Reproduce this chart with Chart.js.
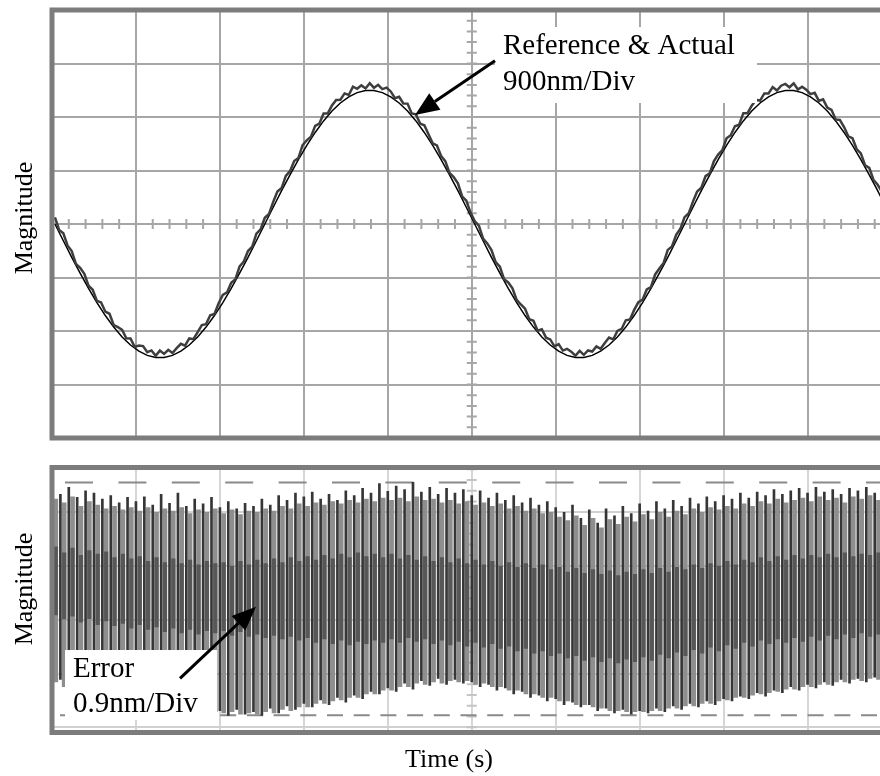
<!DOCTYPE html>
<html>
<head>
<meta charset="utf-8">
<script src="https://cdn.jsdelivr.net/npm/chart.js@4/dist/chart.umd.min.js"></script>
<style>
  html, body { margin: 0; padding: 0; background: #fff; width: 880px; height: 776px; overflow: hidden; }
  #wrap { position: relative; width: 880px; height: 776px; }
  canvas { position: absolute; left: 0; }
  #cTop { top: 0; }
  #cBot { top: 447px; }
  .lbl { position: absolute; width: 200px; height: 30px; line-height: 30px; text-align: center;
         font-family: "Liberation Serif", "Times New Roman", serif; font-size: 26px; color: #000; white-space: nowrap; }
  .rot { transform: rotate(-90deg); }
</style>
</head>
<body>
<div id="wrap">
  <canvas id="cTop" width="880" height="447"></canvas>
  <canvas id="cBot" width="880" height="329"></canvas>
  <div class="lbl rot" style="left:-76.5px; top:203px;">Magnitude</div>
  <div class="lbl rot" style="left:-76.5px; top:574px;">Magnitude</div>
  <div class="lbl" style="left:349px; top:744px;">Time (s)</div>
</div>
<script>
// ---- time axis (divisions) ----
const xVisibleMax = 9.863;
const gridX = [1, 2, 3, 4, 5, 6, 7, 8, 9];

// ---- upper trace: 900 nm / div ----
const gridTopY = [-2700, -1800, -900, 0, 900, 1800, 2700];
const refStep = 0.1;        // sample spacing of the reference trace (div)
const actualStep = 0.05;    // sample spacing of the measured trace (div)
const traceStart = 0.035;   // trigger offset of both traces (div)

const referenceNm = [
  0, -282, -560, -828, -1084, -1323, -1540, -1734, -1900, -2036,
  -2140, -2210, -2246, -2246, -2210, -2140, -2036, -1900, -1734, -1540,
  -1323, -1084, -828, -560, -282, 0, 282, 560, 828, 1084,
  1323, 1540, 1734, 1900, 2036, 2140, 2210, 2246, 2246, 2210,
  2140, 2036, 1900, 1734, 1540, 1323, 1084, 828, 560, 282,
  0, -282, -560, -828, -1084, -1323, -1540, -1734, -1900, -2036,
  -2140, -2210, -2246, -2246, -2210, -2140, -2036, -1900, -1734, -1540,
  -1323, -1084, -828, -560, -282, 0, 282, 560, 828, 1084,
  1323, 1540, 1734, 1900, 2036, 2140, 2210, 2246, 2246, 2210,
  2140, 2036, 1900, 1734, 1540, 1323, 1084, 828, 560, 282
];

const actualNm = [
  110, -101, -157, -362, -455, -670, -738, -838, -1039, -1106,
  -1293, -1319, -1475, -1510, -1699, -1735, -1780, -1922, -1926, -2067,
  -2045, -2054, -2155, -2127, -2216, -2130, -2186, -2117, -2170, -2089,
  -2015, -2047, -1926, -1937, -1820, -1700, -1684, -1535, -1515, -1334,
  -1193, -1151, -989, -928, -713, -630, -455, -382, -162, -91,
  105, 171, 372, 547, 605, 810, 888, 1058, 1109, 1326,
  1408, 1469, 1650, 1690, 1859, 1860, 1995, 2087, 2091, 2197,
  2170, 2309, 2275, 2332, 2281, 2370, 2291, 2342, 2270, 2294,
  2230, 2117, 2141, 2027, 2025, 1860, 1844, 1690, 1660, 1509,
  1358, 1321, 1144, 1058, 858, 790, 685, 467, 392, 196,
  50, -26, -247, -327, -440, -640, -718, -928, -984, -1081,
  -1278, -1354, -1425, -1600, -1629, -1795, -1770, -1912, -1941, -2057,
  -2020, -2129, -2100, -2147, -2216, -2135, -2201, -2127, -2145, -2059,
  -2100, -2002, -1911, -1942, -1800, -1765, -1619, -1605, -1445, -1314,
  -1273, -1101, -1059, -848, -748, -655, -435, -377, -182, -81,
  115, 181, 377, 547, 610, 805, 853, 1058, 1169, 1241,
  1443, 1494, 1645, 1670, 1864, 1865, 1990, 2087, 2076, 2197,
  2195, 2304, 2245, 2327, 2356, 2300, 2366, 2262, 2310, 2259,
  2185, 2207, 2071, 2097, 1960, 1920, 1759, 1750, 1630, 1474,
  1443, 1261, 1189, 988, 943, 745, 660, 547
];

// ---- lower trace: tracking error, 0.9 nm / div ----
const gridBotY = [-1.8, -0.9, 0, 0.9, 1.8];
const errAxisMin = -1.887, errAxisMax = 2.55;
const cursorLevels = [2.3, -1.6];
const errStep = 0.1;          // one stroke pair per 0.1 div
const errStrokeShift = 0.045; // light stroke follows the dark one

const errDarkHi = [
  2.18, 2.10, 2.22, 2.05, 2.16, 2.12, 2.02, 2.08, 1.96, 2.05,
  1.98, 2.06, 1.92, 2.10, 1.95, 2.12, 1.90, 2.02, 1.94, 2.05,
  1.88, 1.98, 1.86, 1.95, 1.90, 2.02, 1.92, 2.08, 2.00, 2.12,
  2.06, 2.14, 2.02, 2.10, 2.00, 2.16, 2.08, 2.20, 2.12, 2.28,
  2.15, 2.24, 2.18, 2.30, 2.14, 2.22, 2.10, 2.20, 2.12, 2.18,
  2.08, 2.16, 2.04, 2.12, 2.00, 2.08, 1.96, 2.04, 1.92, 1.98,
  1.88, 1.80, 1.92, 1.70, 1.84, 1.62, 1.86, 1.74, 1.90, 1.78,
  1.94, 1.82, 1.98, 1.86, 2.00, 1.90, 2.04, 1.94, 2.06, 1.98,
  2.08, 2.02, 2.12, 2.04, 2.14, 2.08, 2.18, 2.10, 2.16, 2.20,
  2.12, 2.22, 2.14, 2.18, 2.10, 2.20, 2.16, 2.22, 2.12
];
const errDarkLo = [
  -1.10, -1.00, -1.18, -1.08, -1.22, -1.30, -1.24, -1.38, -1.32, -1.44,
  -1.36, -1.48, -1.40, -1.52, -1.44, -1.56, -1.48, -1.58, -1.50, -1.56,
  -1.52, -1.60, -1.50, -1.58, -1.54, -1.60, -1.48, -1.56, -1.44, -1.50,
  -1.40, -1.46, -1.34, -1.42, -1.30, -1.38, -1.26, -1.32, -1.20, -1.24,
  -1.14, -1.20, -1.06, -1.16, -1.02, -1.10, -0.98, -1.08, -1.00, -1.06,
  -1.04, -1.12, -1.08, -1.18, -1.14, -1.24, -1.20, -1.30, -1.26, -1.36,
  -1.32, -1.42, -1.38, -1.46, -1.42, -1.52, -1.48, -1.56, -1.50, -1.58,
  -1.52, -1.56, -1.48, -1.54, -1.44, -1.50, -1.40, -1.46, -1.36, -1.42,
  -1.32, -1.36, -1.28, -1.32, -1.22, -1.28, -1.18, -1.22, -1.12, -1.18,
  -1.08, -1.14, -1.04, -1.10, -1.00, -1.06, -0.98, -1.04, -0.96
];
const errGrayHi = [
  2.02, 1.96, 2.06, 1.90, 1.98, 1.92, 1.86, 1.90, 1.84, 1.88,
  1.82, 1.88, 1.80, 1.86, 1.82, 1.88, 1.78, 1.84, 1.80, 1.86,
  1.78, 1.84, 1.76, 1.82, 1.80, 1.86, 1.82, 1.90, 1.86, 1.94,
  1.90, 1.96, 1.92, 1.98, 1.94, 2.00, 1.96, 2.02, 1.98, 2.04,
  2.00, 2.04, 1.98, 2.06, 2.00, 2.02, 1.96, 2.00, 1.94, 1.98,
  1.92, 1.96, 1.90, 1.94, 1.86, 1.90, 1.82, 1.86, 1.78, 1.80,
  1.72, 1.66, 1.74, 1.58, 1.70, 1.54, 1.68, 1.60, 1.72, 1.64,
  1.76, 1.68, 1.80, 1.72, 1.82, 1.76, 1.86, 1.80, 1.88, 1.84,
  1.90, 1.86, 1.94, 1.90, 1.98, 1.94, 2.02, 1.96, 2.00, 2.04,
  1.98, 2.06, 2.00, 2.04, 1.96, 2.06, 2.02, 2.08, 2.00
];
const errGrayLo = [
  -1.04, -1.12, -1.08, -1.16, -1.18, -1.24, -1.30, -1.32, -1.40, -1.38,
  -1.44, -1.42, -1.50, -1.46, -1.52, -1.50, -1.54, -1.52, -1.56, -1.54,
  -1.56, -1.54, -1.58, -1.56, -1.58, -1.54, -1.56, -1.50, -1.52, -1.46,
  -1.46, -1.40, -1.40, -1.36, -1.34, -1.30, -1.30, -1.24, -1.24, -1.18,
  -1.18, -1.12, -1.12, -1.06, -1.08, -1.04, -1.06, -1.02, -1.04, -1.02,
  -1.08, -1.06, -1.12, -1.12, -1.18, -1.18, -1.24, -1.24, -1.30, -1.30,
  -1.36, -1.36, -1.42, -1.42, -1.46, -1.48, -1.52, -1.52, -1.54, -1.54,
  -1.54, -1.52, -1.52, -1.48, -1.48, -1.44, -1.44, -1.40, -1.40, -1.36,
  -1.34, -1.30, -1.30, -1.26, -1.24, -1.22, -1.20, -1.16, -1.16, -1.12,
  -1.12, -1.08, -1.08, -1.04, -1.04, -1.00, -1.02, -0.98, -1.00
];
const errBandHi = [
  1.22, 1.12, 1.20, 1.08, 1.16, 1.10, 1.14, 1.04, 1.10, 1.02,
  1.06, 0.98, 1.04, 0.96, 1.02, 0.94, 1.00, 0.92, 0.98, 0.94,
  0.96, 0.90, 0.98, 0.92, 1.00, 0.94, 1.02, 0.96, 1.04, 0.98,
  1.06, 1.00, 1.08, 1.02, 1.10, 1.04, 1.12, 1.06, 1.10, 1.04,
  1.10, 1.02, 1.08, 1.00, 1.06, 0.98, 1.04, 0.96, 1.02, 0.94,
  1.00, 0.92, 0.98, 0.90, 0.96, 0.88, 0.94, 0.86, 0.92, 0.84,
  0.88, 0.80, 0.86, 0.78, 0.84, 0.76, 0.82, 0.74, 0.80, 0.76,
  0.84, 0.78, 0.86, 0.80, 0.88, 0.84, 0.92, 0.86, 0.94, 0.90,
  0.98, 0.92, 1.00, 0.96, 1.04, 0.98, 1.06, 1.00, 1.08, 1.02,
  1.08, 1.04, 1.10, 1.04, 1.12, 1.06, 1.10, 1.08, 1.12
];
const errBandLo = [
  0.08, 0.00, 0.06, -0.04, 0.02, -0.08, -0.02, -0.10, -0.06, -0.14,
  -0.08, -0.16, -0.12, -0.20, -0.14, -0.22, -0.16, -0.24, -0.18, -0.22,
  -0.18, -0.26, -0.20, -0.28, -0.24, -0.30, -0.26, -0.32, -0.28, -0.34,
  -0.30, -0.38, -0.32, -0.40, -0.34, -0.42, -0.36, -0.40, -0.34, -0.38,
  -0.32, -0.38, -0.30, -0.36, -0.32, -0.40, -0.34, -0.42, -0.36, -0.44,
  -0.38, -0.46, -0.40, -0.48, -0.44, -0.52, -0.48, -0.56, -0.52, -0.60,
  -0.56, -0.64, -0.60, -0.68, -0.62, -0.70, -0.64, -0.72, -0.66, -0.70,
  -0.62, -0.68, -0.58, -0.64, -0.54, -0.60, -0.50, -0.56, -0.46, -0.52,
  -0.42, -0.48, -0.38, -0.44, -0.34, -0.40, -0.32, -0.38, -0.30, -0.36,
  -0.28, -0.34, -0.26, -0.32, -0.24, -0.30, -0.22, -0.28, -0.24
];

// ---- shared drawing helpers ----
const SERIF = '"Liberation Serif", "Times New Roman", serif';

// short graduation marks along the centre lines of the screen
const minorTicks = {
  id: 'minorTicks',
  beforeDatasetsDraw(chart, args, o) {
    const { ctx, chartArea: a, scales: { x, y } } = chart;
    ctx.save();
    ctx.beginPath(); ctx.rect(a.left, a.top, a.right - a.left, a.bottom - a.top); ctx.clip();
    ctx.strokeStyle = o.color; ctx.lineWidth = 2;
    ctx.beginPath();
    if (o.hLine) {
      const py = y.getPixelForValue(o.hLine.at);
      for (let i = 0; o.hLine.from + i * o.hLine.step <= o.hLine.to + 1e-9; i++) {
        const px = x.getPixelForValue(o.hLine.from + i * o.hLine.step);
        ctx.moveTo(px, py - o.half); ctx.lineTo(px, py + o.half);
      }
    }
    if (o.vLine) {
      const px = x.getPixelForValue(o.vLine.at);
      for (let i = 0; o.vLine.from + i * o.vLine.step <= o.vLine.to + 1e-9; i++) {
        const py = y.getPixelForValue(o.vLine.from + i * o.vLine.step);
        ctx.moveTo(px - o.half, py); ctx.lineTo(px + o.half, py);
      }
    }
    ctx.stroke();
    ctx.restore();
  }
};

// labelled callout with an arrow pointing at the trace
const callout = {
  id: 'callout',
  afterDatasetsDraw(chart, args, o) {
    const { ctx, scales: { x, y } } = chart;
    const X = v => x.getPixelForValue(v), Y = v => y.getPixelForValue(v);
    ctx.save();
    const bx0 = X(o.box[0]), by0 = Y(o.box[1]), bx1 = X(o.box[2]), by1 = Y(o.box[3]);
    ctx.fillStyle = '#fff';
    ctx.fillRect(bx0, by0, bx1 - bx0, by1 - by0);
    ctx.fillStyle = '#000';
    ctx.font = '29px ' + SERIF;
    ctx.textAlign = 'left'; ctx.textBaseline = 'alphabetic';
    o.lines.forEach((t, i) => ctx.fillText(t, X(o.textX), Y(o.baselines[i])));
    const tx = X(o.tail[0]), ty = Y(o.tail[1]), hx = X(o.head[0]), hy = Y(o.head[1]);
    const ang = Math.atan2(hy - ty, hx - tx), L = 24, W = 10;
    const bx = hx - L * Math.cos(ang), by = hy - L * Math.sin(ang);
    ctx.strokeStyle = '#000'; ctx.lineWidth = 3;
    ctx.beginPath(); ctx.moveTo(tx, ty); ctx.lineTo(bx, by); ctx.stroke();
    ctx.beginPath();
    ctx.moveTo(hx, hy);
    ctx.lineTo(bx + W * Math.sin(ang), by - W * Math.cos(ang));
    ctx.lineTo(bx - W * Math.sin(ang), by + W * Math.cos(ang));
    ctx.closePath(); ctx.fill();
    ctx.restore();
  }
};

// heavy bezel round the screen (open to the right, where the screen continues)
const bezel = {
  id: 'bezel',
  afterDraw(chart) {
    const { ctx, chartArea: a } = chart;
    ctx.save();
    ctx.strokeStyle = '#7c7c7c'; ctx.lineWidth = 5;
    ctx.beginPath();
    ctx.moveTo(a.right + 20, a.top); ctx.lineTo(a.left, a.top);
    ctx.lineTo(a.left, a.bottom); ctx.lineTo(a.right + 20, a.bottom);
    ctx.stroke();
    ctx.restore();
  }
};

function axisX(gridColor) {
  return {
    type: 'linear', min: 0, max: xVisibleMax, offset: false,
    afterFit: s => { s.height = 0; },
    afterBuildTicks: s => { s.ticks = gridX.map(v => ({ value: v })); },
    ticks: { display: false },
    grid: { color: gridColor, lineWidth: 2, drawTicks: false, offset: false },
    border: { display: false }
  };
}
function axisY(min, max, lines, gridColor) {
  return {
    type: 'linear', min, max,
    afterFit: s => { s.width = 52; },
    afterBuildTicks: s => { s.ticks = lines.map(v => ({ value: v })); },
    ticks: { display: false },
    grid: { color: gridColor, lineWidth: 2, drawTicks: false },
    border: { display: false }
  };
}

// ---- upper chart: reference & actual position ----
new Chart(document.getElementById('cTop'), {
  type: 'line',
  data: {
    datasets: [
      {
        label: 'Actual',
        data: actualNm.map((v, i) => ({ x: traceStart + i * actualStep, y: v })),
        borderColor: '#3e3e3e', borderWidth: 2.5, pointRadius: 0, tension: 0
      },
      {
        label: 'Reference',
        data: referenceNm.map((v, i) => ({ x: traceStart + i * refStep, y: v })),
        borderColor: '#000', borderWidth: 1.5, pointRadius: 0, tension: 0
      }
    ]
  },
  options: {
    responsive: false, animation: false, events: [],
    layout: { padding: { top: 10, right: 0, bottom: 9, left: 0 } },
    plugins: {
      legend: { display: false }, tooltip: { enabled: false },
      minorTicks: {
        color: '#a6a6a6', half: 5,
        hLine: { at: 0, from: 0, to: 10, step: 0.2 },
        vLine: { at: 5, from: -3600, to: 3600, step: 180 }
      },
      callout: {
        box: [5.277, 3314, 8.398, 2035],
        lines: ['Reference & Actual', '900nm/Div'],
        textX: 5.372, baselines: [2860, 2254],
        tail: [5.277, 2747], head: [4.324, 1834]
      }
    },
    scales: {
      x: axisX('#a6a6a6'),
      y: axisY(-3600, 3600, gridTopY, '#a6a6a6')
    }
  },
  plugins: [minorTicks, callout, bezel]
});

// ---- lower chart: tracking error ----
const strokeTime = i => i * errStep;
new Chart(document.getElementById('cBot'), {
  type: 'bar',
  data: {
    datasets: [
      {
        label: 'Error',
        data: errDarkHi.map((hi, i) => ({ x: strokeTime(i), y: [errDarkLo[i], hi] })),
        backgroundColor: '#363636', barThickness: 2, grouped: false
      },
      {
        label: 'Error (dense)',
        data: errBandHi.map((hi, i) => ({ x: strokeTime(i) + errStrokeShift, y: [errBandLo[i], hi] })),
        backgroundColor: '#575757', barThickness: 3.5, grouped: false
      },
      {
        label: 'Error (trail)',
        data: errGrayHi.map((hi, i) => ({ x: strokeTime(i) + errStrokeShift, y: [errGrayLo[i], hi] })),
        backgroundColor: '#8e8e8e', barThickness: 4, grouped: false
      },
      {
        type: 'line', label: 'Upper cursor',
        data: [{ x: 0, y: cursorLevels[0] }, { x: 10, y: cursorLevels[0] }],
        borderColor: '#8a8a8a', borderWidth: 2, borderDash: [28, 25.4], borderDashOffset: 40.4, pointRadius: 0
      },
      {
        type: 'line', label: 'Lower cursor',
        data: [{ x: 0, y: cursorLevels[1] }, { x: 10, y: cursorLevels[1] }],
        borderColor: '#8a8a8a', borderWidth: 2, borderDash: [16, 10.7], borderDashOffset: 18.7, pointRadius: 0
      }
    ]
  },
  options: {
    responsive: false, animation: false, events: [],
    layout: { padding: { top: 20.5, right: 0, bottom: 43.5, left: 0 } },
    plugins: {
      legend: { display: false }, tooltip: { enabled: false },
      minorTicks: {
        color: '#c4c4c4', half: 5,
        vLine: { at: 5, from: -2.16, to: 2.52, step: 0.18 }
      },
      callout: {
        box: [0.155, -0.506, 1.965, -1.678],
        lines: ['Error', '0.9nm/Div'],
        textX: 0.25, baselines: [-0.963, -1.539],
        tail: [1.525, -0.98], head: [2.43, 0.219]
      }
    },
    scales: {
      x: axisX('#d6d6d6'),
      y: axisY(errAxisMin, errAxisMax, gridBotY, '#d0d0d0')
    }
  },
  plugins: [minorTicks, callout, bezel]
});
</script>
</body>
</html>
